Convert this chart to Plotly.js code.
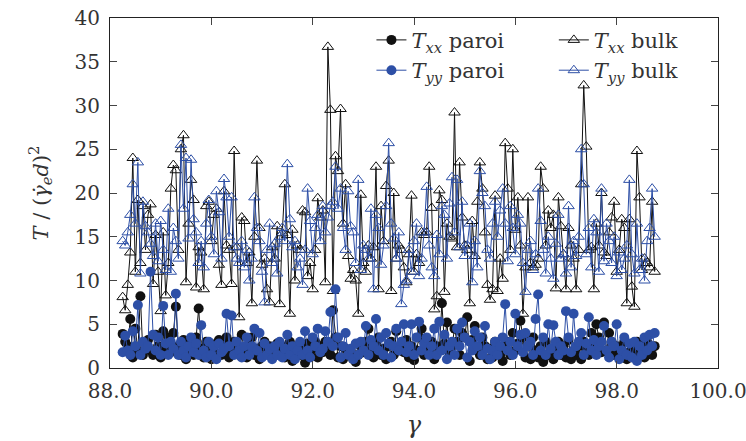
<!DOCTYPE html>
<html>
<head>
<meta charset="utf-8">
<script src="https://cdn.plot.ly/plotly-3.0.1.min.js"></script>
<style>html,body{margin:0;padding:0;background:#fff;}#chart{width:746px;height:441px;}</style>
</head>
<body>
<div id="chart"></div>
<script>
// strain gamma
const gamma = [
88.25,88.30,88.35,88.40,88.45,88.50,88.55,88.60,88.65,88.70,
88.75,88.80,88.85,88.90,88.95,89.00,89.05,89.10,89.15,89.20,
89.25,89.30,89.35,89.40,89.45,89.50,89.55,89.60,89.65,89.70,
89.75,89.80,89.85,89.90,89.95,90.00,90.05,90.10,90.15,90.20,
90.25,90.30,90.35,90.40,90.45,90.50,90.55,90.60,90.65,90.70,
90.75,90.80,90.85,90.90,90.95,91.00,91.05,91.10,91.15,91.20,
91.25,91.30,91.35,91.40,91.45,91.50,91.55,91.60,91.65,91.70,
91.75,91.80,91.85,91.90,91.95,92.00,92.05,92.10,92.15,92.20,
92.25,92.30,92.35,92.40,92.45,92.50,92.55,92.60,92.65,92.70,
92.75,92.80,92.85,92.90,92.95,93.00,93.05,93.10,93.15,93.20,
93.25,93.30,93.35,93.40,93.45,93.50,93.55,93.60,93.65,93.70,
93.75,93.80,93.85,93.90,93.95,94.00,94.05,94.10,94.15,94.20,
94.25,94.30,94.35,94.40,94.45,94.50,94.55,94.60,94.65,94.70,
94.75,94.80,94.85,94.90,94.95,95.00,95.05,95.10,95.15,95.20,
95.25,95.30,95.35,95.40,95.45,95.50,95.55,95.60,95.65,95.70,
95.75,95.80,95.85,95.90,95.95,96.00,96.05,96.10,96.15,96.20,
96.25,96.30,96.35,96.40,96.45,96.50,96.55,96.60,96.65,96.70,
96.75,96.80,96.85,96.90,96.95,97.00,97.05,97.10,97.15,97.20,
97.25,97.30,97.35,97.40,97.45,97.50,97.55,97.60,97.65,97.70,
97.75,97.80,97.85,97.90,97.95,98.00,98.05,98.10,98.15,98.20,
98.25,98.30,98.35,98.40,98.45,98.50,98.55,98.60,98.65,98.70,
98.75];

// T_xx bulk
const txxBulk = [
8.1,6.6,9.5,13.2,24.0,11.0,19.2,12.0,18.5,13.5,
17.5,18.7,9.6,15.2,11.0,6.5,15.5,8.3,12.0,20.5,
23.2,22.6,13.5,25.0,26.6,9.8,16.5,21.5,19.2,9.2,
13.8,13.2,9.0,18.5,19.0,14.5,17.5,18.2,11.8,9.5,
20.2,14.0,13.5,9.6,24.8,13.8,5.8,17.2,16.8,12.0,
13.2,7.4,15.0,23.7,16.0,11.8,12.5,9.0,7.5,13.8,
12.5,16.2,7.3,15.4,21.0,15.2,6.2,15.8,10.0,14.0,
13.5,18.0,17.8,10.5,12.0,9.0,13.5,19.4,17.2,18.0,
9.8,36.7,29.5,8.8,24.2,22.5,29.6,16.5,21.0,12.8,
10.2,11.2,10.0,6.2,19.8,12.0,11.0,14.0,12.5,13.8,
23.0,9.0,18.5,14.5,20.8,23.7,8.8,20.0,12.5,14.0,
13.5,11.5,9.8,13.0,19.7,11.0,13.0,12.0,15.5,15.2,
15.5,23.0,18.3,6.7,8.2,20.3,19.2,8.7,16.5,15.0,
14.8,29.2,13.8,23.5,17.2,14.0,13.5,7.4,16.8,12.8,
19.0,23.5,20.5,15.5,9.5,7.8,9.0,19.7,8.8,12.5,
10.2,25.7,20.5,13.5,25.0,15.8,19.5,14.0,6.2,11.5,
19.5,12.0,11.5,11.8,12.5,23.0,20.5,14.0,18.0,16.0,
17.5,9.1,19.5,16.2,13.0,9.0,16.0,14.0,12.5,9.0,
13.5,21.0,32.3,25.3,13.5,13.8,9.0,16.5,14.0,20.0,
13.2,12.8,15.5,17.2,19.0,11.0,13.5,17.0,16.0,7.4,
17.0,9.3,7.0,24.8,19.5,11.2,12.5,12.0,11.5,19.0,
11.0];

// T_yy bulk
const tyyBulk = [
14.5,14.0,15.5,17.5,21.0,16.5,23.5,10.8,19.0,16.2,
15.5,14.2,12.8,16.5,12.2,16.8,13.5,11.2,18.2,11.0,
16.0,14.5,12.5,25.5,18.2,24.0,14.8,23.8,17.0,15.5,
12.0,14.5,11.5,16.5,19.2,15.0,13.0,20.2,17.8,12.5,
21.6,19.5,15.0,19.5,13.8,12.5,12.0,14.5,11.5,13.5,
10.0,12.5,19.5,16.0,14.5,11.0,7.5,13.5,16.5,12.0,
14.2,10.8,15.0,16.0,14.5,23.3,17.0,13.8,14.5,11.5,
12.5,9.5,13.5,20.5,16.8,13.0,16.0,17.5,14.5,18.5,
15.5,17.2,18.5,19.0,23.0,18.2,20.5,16.0,13.5,20.2,
16.2,15.5,12.0,21.5,11.2,14.0,13.5,12.5,18.2,9.0,
17.5,16.0,11.8,14.0,18.5,25.7,16.5,14.8,12.5,15.5,
7.3,9.5,10.0,13.5,11.0,14.5,16.5,10.5,12.5,15.5,
20.7,14.0,11.5,10.5,15.2,13.0,18.5,17.5,12.5,18.8,
21.8,15.5,21.5,13.8,19.0,12.8,14.0,16.5,9.8,14.5,
11.5,22.5,20.0,18.5,13.5,12.5,16.5,19.0,15.0,18.0,
20.5,16.5,12.2,18.5,16.0,13.0,17.5,16.5,12.0,8.7,
13.5,14.5,11.2,13.0,20.5,16.8,13.5,10.8,15.0,12.5,
10.2,14.2,17.5,12.5,13.0,10.8,18.5,11.5,14.5,12.8,
15.0,25.0,21.0,13.0,16.0,11.5,17.0,15.5,11.0,20.5,
12.2,16.5,14.5,12.0,15.0,10.5,13.2,11.2,12.5,14.0,
21.5,13.0,10.8,16.5,11.2,12.5,10.0,14.5,16.0,20.5,
15.0];

// T_xx paroi
const txxParoi = [
3.9,3.0,2.5,5.6,1.2,4.5,2.0,8.2,1.5,2.8,
3.2,2.0,1.5,3.8,2.5,1.2,4.2,2.0,3.5,1.8,
4.0,7.0,2.5,1.5,3.2,1.0,2.0,2.8,1.5,3.5,
6.8,2.2,1.2,3.0,2.5,1.0,1.8,2.8,3.2,1.5,
2.5,3.5,1.2,2.0,3.0,2.5,1.5,3.8,2.0,1.2,
2.8,3.5,1.5,2.2,1.0,2.5,3.0,1.8,2.5,1.2,
2.0,2.8,1.5,2.5,1.2,2.0,3.0,0.8,1.8,2.5,
1.5,2.0,0.6,2.8,1.5,2.2,3.0,1.2,2.5,1.8,
3.0,2.0,1.5,6.6,3.5,1.2,2.5,1.0,2.2,1.5,
2.0,1.0,0.7,1.5,2.5,1.8,3.0,4.5,2.2,1.2,
2.8,3.5,1.5,2.2,1.0,2.5,3.0,1.5,4.2,2.0,
2.5,1.8,3.2,1.2,2.5,0.9,2.0,3.5,4.5,1.5,
2.2,1.8,3.0,1.0,2.5,2.0,7.4,2.8,5.2,1.8,
2.5,4.5,3.0,1.5,4.0,3.5,5.8,0.8,3.2,4.8,
2.0,1.5,3.5,2.5,1.0,2.2,1.2,3.0,2.0,1.5,
0.8,2.5,3.0,1.5,4.0,2.0,2.8,5.4,3.5,1.2,
2.5,1.0,3.5,2.0,1.2,2.5,0.7,3.0,1.5,2.2,
1.0,2.0,3.0,1.5,2.5,1.2,3.2,1.0,2.0,1.5,
2.5,1.0,3.0,2.0,1.5,4.0,2.5,5.0,3.5,1.8,
5.2,2.0,4.0,3.0,1.5,2.5,1.2,2.0,3.0,1.0,
1.8,2.5,1.5,3.0,2.0,2.8,1.2,3.0,2.0,1.5,
2.5];

// T_yy paroi
const tyyParoi = [
1.8,3.7,2.0,1.5,4.2,2.5,7.2,1.5,3.0,2.2,
2.5,11.0,3.8,2.0,3.5,1.5,7.1,2.8,1.5,3.0,
2.2,8.5,1.5,3.0,2.0,1.2,2.5,3.5,1.8,2.8,
1.5,4.9,2.0,1.2,3.0,1.5,2.5,1.0,2.8,1.8,
2.2,6.2,2.5,6.0,1.5,3.0,2.0,1.2,2.5,3.5,
1.5,2.5,4.5,2.0,4.0,1.2,2.8,1.5,2.2,1.0,
2.5,1.5,3.0,1.2,2.2,3.8,1.5,2.5,1.0,2.0,
3.0,1.5,4.2,2.0,1.2,3.5,2.5,4.5,1.8,2.2,
4.2,3.0,6.4,2.5,9.0,3.5,1.2,2.5,4.0,1.5,
2.2,1.0,2.8,1.5,3.0,2.0,4.8,1.5,3.2,2.5,
5.6,2.0,3.5,1.5,4.0,2.8,1.2,2.5,4.5,2.0,
3.0,5.0,1.8,2.5,5.0,1.5,3.5,5.3,2.0,2.8,
3.5,1.5,2.5,4.5,1.5,5.3,2.0,3.8,1.0,2.5,
3.0,1.5,4.5,2.5,5.2,3.5,1.2,3.0,2.0,4.2,
2.5,3.5,1.5,4.8,2.2,1.0,2.0,3.0,1.5,2.5,
3.5,7.3,2.0,3.0,1.5,6.2,2.5,3.8,1.8,4.0,
2.5,3.0,1.5,5.6,8.4,2.0,3.5,1.5,5.0,2.2,
4.9,3.0,1.5,2.5,2.0,6.5,3.5,1.8,6.2,2.5,
3.0,4.0,1.5,2.8,5.8,2.0,3.2,1.5,2.5,3.0,
4.8,2.0,1.2,3.0,2.5,5.0,1.0,2.0,3.5,1.5,
2.8,1.2,3.0,0.8,2.5,1.5,3.5,2.0,3.8,2.5,
4.0];

const xTicks = [88, 90, 92, 94, 96, 98, 100];
const xTickText = ['88.0','90.0','92.0','94.0','96.0','98.0','100.0'];
const yTicks = [0, 5, 10, 15, 20, 25, 30, 35, 40];

const BLACK = '#111111';
const BLUE = '#2d4fa6';
const FONT = 'DejaVu Serif';

const traces = [
  {x: gamma, y: txxBulk, type: 'scatter', mode: 'lines+markers', name: '<i>T</i><sub><i>xx</i></sub> bulk', legend: 'legend2',
   line: {color: BLACK, width: 1}, marker: {symbol: 'triangle-up-open', size: 10, color: BLACK, line: {width: 1}}},
  {x: gamma, y: tyyBulk, type: 'scatter', mode: 'lines+markers', name: '<i>T</i><sub><i>yy</i></sub> bulk', legend: 'legend2',
   line: {color: BLUE, width: 1}, marker: {symbol: 'triangle-up-open', size: 10, color: BLUE, line: {width: 1}}},
  {x: gamma, y: txxParoi, type: 'scatter', mode: 'lines+markers', name: '<i>T</i><sub><i>xx</i></sub> paroi', legend: 'legend',
   line: {color: BLACK, width: 1}, marker: {symbol: 'circle', size: 10, color: BLACK}},
  {x: gamma, y: tyyParoi, type: 'scatter', mode: 'lines+markers', name: '<i>T</i><sub><i>yy</i></sub> paroi', legend: 'legend',
   line: {color: BLUE, width: 1}, marker: {symbol: 'circle', size: 10, color: BLUE}}
];

const axisCommon = {
  showgrid: false, zeroline: false, showline: true, linecolor: '#222', linewidth: 1,
  mirror: 'allticks', ticks: 'inside', ticklen: 7, tickcolor: '#444', tickwidth: 1,
  ticklabeloverflow: 'allow',
  tickfont: {family: FONT, size: 20, color: '#333'}
};

const layout = {
  width: 746, height: 441,
  margin: {l: 110, r: 28, t: 18, b: 73},
  paper_bgcolor: '#fff', plot_bgcolor: '#fff',
  font: {family: FONT, size: 21, color: '#333'},
  showlegend: true,
  xaxis: Object.assign({}, axisCommon, {
    range: [88, 100], tickvals: xTicks, ticktext: xTickText,
    ticklabelstandoff: 5,
    title: {text: '<i>γ</i>', font: {family: FONT, size: 24, color: '#333'}, standoff: 14}
  }),
  yaxis: Object.assign({}, axisCommon, {
    range: [0, 40], tickvals: yTicks,
    ticklabelstandoff: 5,
    title: {text: '<i>T</i> / (<i>γ̇</i><sub><i>e</i></sub><i>d</i>)<sup>2</sup>', font: {family: FONT, size: 21, color: '#333'}, standoff: 20}
  }),
  legend: {x: 0.43, y: 0.995, xanchor: 'left', yanchor: 'top', bgcolor: 'rgba(0,0,0,0)',
    font: {family: FONT, size: 21, color: '#333'}, tracegroupgap: 0, itemwidth: 30},
  legend2: {x: 0.73, y: 0.995, xanchor: 'left', yanchor: 'top', bgcolor: 'rgba(0,0,0,0)',
    font: {family: FONT, size: 21, color: '#333'}, tracegroupgap: 0, itemwidth: 30}
};

Plotly.newPlot('chart', traces, layout, {displayModeBar: false, staticPlot: true});
</script>
</body>
</html>
